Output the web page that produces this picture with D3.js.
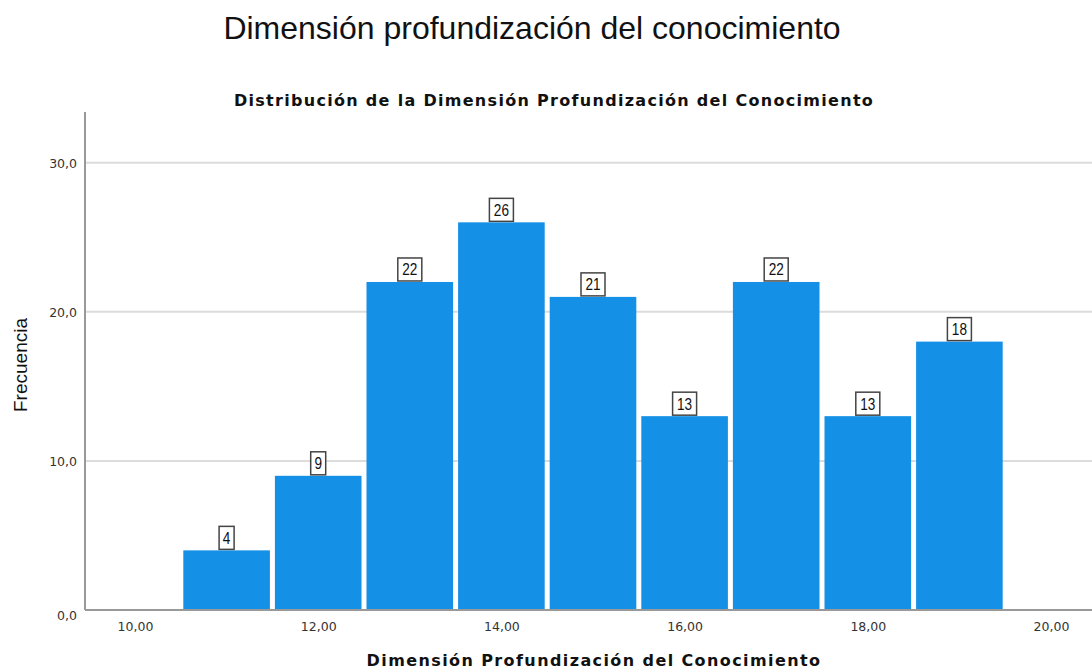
<!DOCTYPE html>
<html>
<head>
<meta charset="utf-8">
<script src="https://cdn.jsdelivr.net/npm/d3@7"></script>
<style>
  body { margin: 0; background: #fff; }
  svg { display: block; font-family: "Liberation Sans", Arial, sans-serif; }
</style>
</head>
<body>
<div id="chart"></div>
<script>
// Histogram data (bin centers and frequencies)
const binCenters = [11, 12, 13, 14, 15, 16, 17, 18, 19];
const frequencies = [4, 9, 22, 26, 21, 13, 22, 13, 18];
const xTicks = [10, 12, 14, 16, 18, 20];
const yTicks = [0, 10, 20, 30];

const width = 1092, height = 670;
const margin = { top: 112, right: 0, bottom: 60, left: 85 };

const svg = d3.select('#chart')
    .append('svg')
    .attr('width', width)
    .attr('height', height);

// Scales
const xScale = d3.scaleLinear().domain([10, 20]).range([135, 1051]);
const yScale = d3.scaleLinear().domain([0, 30]).range([610, 162.7]);

// Page title
svg.append('text')
    .attr('x', 532)
    .attr('y', 39)
    .attr('text-anchor', 'middle')
    .style('font-size', '32px')
    .style('fill', '#111')
    .text('Dimensión profundización del conocimiento');

// Chart title
svg.append('text')
    .attr('x', 554)
    .attr('y', 106)
    .attr('text-anchor', 'middle')
    .style('font-size', '16px')
    .style('font-weight', 'bold')
    .style('font-family', '"DejaVu Sans", Verdana, sans-serif')
    .style('letter-spacing', '1.3px')
    .style('fill', '#111')
    .text('Distribución de la Dimensión Profundización del Conocimiento');

// Gridlines
svg.append('g')
    .selectAll('line')
    .data(yTicks.filter(d => d > 0))
    .join('line')
    .attr('x1', margin.left)
    .attr('x2', width)
    .attr('y1', d => yScale(d))
    .attr('y2', d => yScale(d))
    .attr('stroke', '#dcdcdc')
    .attr('stroke-width', 2);

// Bars
const inset = 2.5;
svg.append('g')
    .selectAll('rect')
    .data(binCenters)
    .join('rect')
    .attr('x', (d) => xScale(d - 0.5) + inset)
    .attr('y', (d, i) => yScale(frequencies[i]))
    .attr('width', xScale(1) - xScale(0) - inset * 2)
    .attr('height', (d, i) => yScale(0) - yScale(frequencies[i]))
    .attr('fill', '#1490e6');

// Value labels in boxes
const labels = svg.append('g')
    .selectAll('g')
    .data(binCenters)
    .join('g')
    .attr('transform', (d, i) => `translate(${xScale(d)},${yScale(frequencies[i])})`);

labels.each(function(d, i) {
    const g = d3.select(this);
    const txt = String(frequencies[i]);
    const w = txt.length > 1 ? 24 : 15;
    g.append('rect')
        .attr('x', -w / 2)
        .attr('y', -24)
        .attr('width', w)
        .attr('height', 23)
        .attr('fill', '#fff')
        .attr('stroke', '#444')
        .attr('stroke-width', 1.5);
    g.append('text')
        .attr('x', 0)
        .attr('y', -6.5)
        .attr('text-anchor', 'middle')
        .attr('transform', 'scale(0.85,1)')
        .style('font-size', '16px')
        .style('fill', '#111')
        .text(txt);
});

// Axes
const yAxis = d3.axisLeft(yScale)
    .tickValues(yTicks)
    .tickSize(0)
    .tickPadding(8)
    .tickFormat(d => d3.format('.1f')(d).replace('.', ','));

const gy = svg.append('g')
    .attr('transform', `translate(${margin.left},0)`)
    .call(yAxis);
gy.select('.domain').remove();
gy.selectAll('text')
    .style('font-size', '12.5px')
    .style('fill', '#333')
    .style('font-family', '"DejaVu Sans", Verdana, sans-serif')
    .attr('dy', d => d === 0 ? '0.75em' : '0.35em');

const xAxis = d3.axisBottom(xScale)
    .tickValues(xTicks)
    .tickSize(0)
    .tickPadding(12)
    .tickFormat(d => d3.format('.2f')(d).replace('.', ','));

const gx = svg.append('g')
    .attr('transform', `translate(0,${yScale(0)})`)
    .call(xAxis);
gx.select('.domain').remove();
gx.selectAll('text')
    .style('font-size', '12.5px')
    .style('fill', '#333')
    .style('font-family', '"DejaVu Sans", Verdana, sans-serif');

// Axis lines
svg.append('line')
    .attr('x1', margin.left).attr('x2', margin.left)
    .attr('y1', margin.top).attr('y2', yScale(0))
    .attr('stroke', '#999').attr('stroke-width', 2);
svg.append('line')
    .attr('x1', margin.left).attr('x2', width)
    .attr('y1', yScale(0)).attr('y2', yScale(0))
    .attr('stroke', '#999').attr('stroke-width', 2);

// Axis titles
svg.append('text')
    .attr('transform', 'rotate(-90)')
    .attr('x', -365)
    .attr('y', 27)
    .attr('text-anchor', 'middle')
    .attr('textLength', 94)
    .attr('lengthAdjust', 'spacingAndGlyphs')
    .style('font-size', '18px')
    .style('fill', '#111')
    .text('Frecuencia');

svg.append('text')
    .attr('x', 594)
    .attr('y', 666)
    .attr('text-anchor', 'middle')
    .style('font-size', '16px')
    .style('font-weight', 'bold')
    .style('font-family', '"DejaVu Sans", Verdana, sans-serif')
    .style('letter-spacing', '1.4px')
    .style('fill', '#111')
    .text('Dimensión Profundización del Conocimiento');
</script>
</body>
</html>
